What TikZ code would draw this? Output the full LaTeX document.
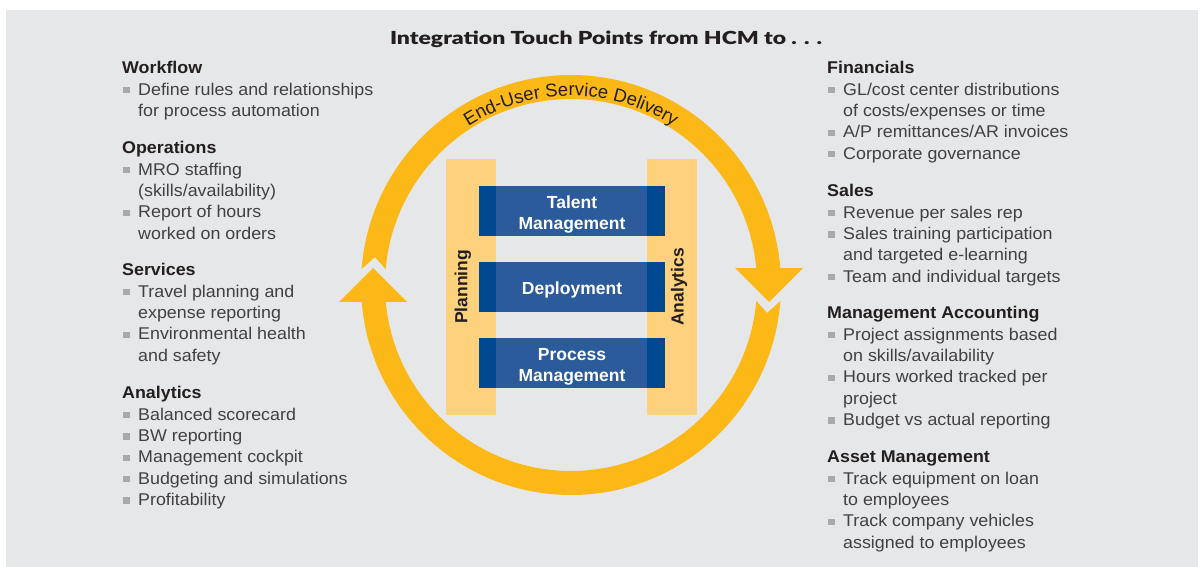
\documentclass[tikz,border=0pt]{standalone}
\usepackage{fontspec}
\usepackage{graphicx}
\setmainfont{Liberation Sans}
\newfontfamily\bodyfont{Liberation Sans}[FakeStretch=1.05]
\IfFontExistsTF{Lato Black}{\newfontfamily\titlefont{Lato Black}}{%
  \IfFontExistsTF{Fira Sans Black}{\newfontfamily\titlefont{Fira Sans Black}}{%
    \IfFontExistsTF{Poppins Black}{\newfontfamily\titlefont{Poppins Black}}{%
      \newfontfamily\titlefont{Liberation Sans Bold}}}}
\usetikzlibrary{decorations.text,calc}

\definecolor{bggray}{HTML}{E6E7E8}
\definecolor{ringcol}{HTML}{FBB817}
\definecolor{barcol}{HTML}{FED27C}
\definecolor{boxblue}{HTML}{2B5B9A}
\definecolor{boxdark}{HTML}{004990}
\definecolor{txtdark}{HTML}{231F20}
\definecolor{txtgray}{HTML}{414042}
\definecolor{bulgray}{HTML}{A7A9AC}

\newcommand{\bul}{\makebox[16pt][l]{\hspace{1pt}\textcolor{bulgray}{\rule[1.8pt]{6.5pt}{6.5pt}}}}
\newcommand{\cnt}{\hspace*{16pt}}
\newcommand{\hd}[1]{\textcolor{txtdark}{\bfseries #1}}
\newcommand{\grp}[1]{\begin{tabular}[t]{@{}l@{}}#1\end{tabular}}

\begin{document}
\begin{tikzpicture}[x=1pt,y=1pt,
  colbar/.style={fill=barcol,minimum width=50pt,minimum height=256pt,inner sep=0pt,outer sep=0pt},
  bluebox/.style={fill=boxblue,minimum width=186pt,minimum height=50pt,inner sep=0pt,outer sep=0pt},
  boxtext/.style={inner sep=0pt,text=white,align=center,font=\fontsize{17.5}{21}\selectfont\bfseries},
  coltext/.style={rotate=90,inner sep=0pt,text=txtdark,font=\fontsize{17.5}{21}\selectfont\bfseries},
  grp/.style={anchor=base west,inner sep=0pt,text=txtgray,font=\bodyfont\fontsize{17}{21.3}\selectfont}]
\useasboundingbox (0,0) rectangle (1201,567);
\fill[bggray] (6,0) rectangle (1198,557);

% title
\node[anchor=base,inner sep=0pt,text=txtdark] (title) at (606,522)
  {\resizebox{432pt}{13.5pt}{\titlefont Integration Touch Points from HCM to . . .}};

% ring of two arrows
\foreach \r in {0,180}{
  \begin{scope}[shift={(571,282)},rotate=\r]
    \fill[ringcol] (175.6:210) arc[start angle=175.6,end angle=4.6,radius=210]
      -- (232,17) -- (198,-17) -- (164,17) -- (5.2:186)
      arc[start angle=5.2,end angle=175.1,radius=186] -- (171.9:198) -- cycle;
  \end{scope}
}
\path[shift={(571,282)},decorate,decoration={text along path,text align=center,text color=txtdark,
  text={|\fontsize{18.5}{20}\selectfont|End-User Service Delivery}}]
  (150:189) arc[start angle=150,end angle=30,radius=189];

% columns and boxes
\node[colbar] (planbar) at (471,280) {};
\node[colbar] (anabar) at (672,280) {};
\node[coltext] (plantxt) at (463,280) {Planning};
\node[coltext] (anatxt) at (679,280) {Analytics};

\node[bluebox] (talent) at (572,356) {};
\node[bluebox] (deploy) at (572,280) {};
\node[bluebox] (process) at (572,204) {};
\foreach \b in {talent,deploy,process}{
  \fill[boxdark] (\b.south west) rectangle (\b.north west -| planbar.east);
  \fill[boxdark] (\b.south east) rectangle (\b.north east -| anabar.west);
}
\node[boxtext] (talenttxt) at ([yshift=-3.5pt]talent.center) {Talent\\Management};
\node[boxtext] (deploytxt) at ([yshift=-3pt]deploy.center) {Deployment};
\node[boxtext] (processtxt) at ([yshift=-3.5pt]process.center) {Process\\Management};

% left side
\node[grp] (workflow) at (122,493) {\grp{\hd{Workflow}\\
  \bul Define rules and relationships\\ \cnt for process automation}};
\node[grp] (operations) at (122,413) {\grp{\hd{Operations}\\
  \bul MRO staffing\\ \cnt (skills/availability)\\
  \bul Report of hours\\ \cnt worked on orders}};
\node[grp] (services) at (122,291) {\grp{\hd{Services}\\
  \bul Travel planning and\\ \cnt expense reporting\\
  \bul Environmental health\\ \cnt and safety}};
\node[grp] (analytics) at (122,168) {\grp{\hd{Analytics}\\
  \bul Balanced scorecard\\ \bul BW reporting\\ \bul Management cockpit\\
  \bul Budgeting and simulations\\ \bul Profitability}};

% right side
\node[grp] (financials) at (827,493) {\grp{\hd{Financials}\\
  \bul GL/cost center distributions\\ \cnt of costs/expenses or time\\
  \bul A/P remittances/AR invoices\\ \bul Corporate governance}};
\node[grp] (sales) at (827,370) {\grp{\hd{Sales}\\
  \bul Revenue per sales rep\\ \bul Sales training participation\\
  \cnt and targeted e-learning\\ \bul Team and individual targets}};
\node[grp] (mgmtacc) at (827,248) {\grp{\hd{Management Accounting}\\
  \bul Project assignments based\\ \cnt on skills/availability\\
  \bul Hours worked tracked per\\ \cnt project\\
  \bul Budget vs actual reporting}};
\node[grp] (assetmgmt) at (827,104) {\grp{\hd{Asset Management}\\
  \bul Track equipment on loan\\ \cnt to employees\\
  \bul Track company vehicles\\ \cnt assigned to employees}};
\end{tikzpicture}
\end{document}
